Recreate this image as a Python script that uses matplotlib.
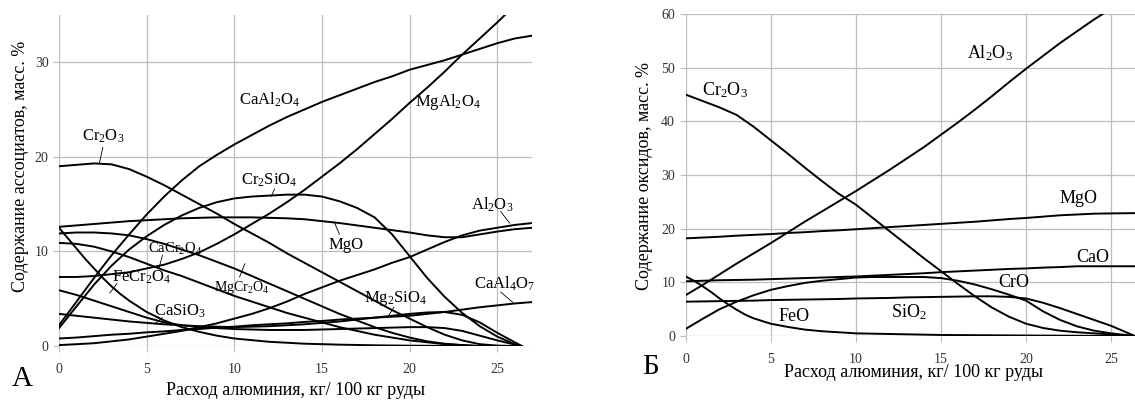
import matplotlib
matplotlib.use("Agg")
import matplotlib.pyplot as plt

plt.rcParams['font.family'] = ['Liberation Serif', 'DejaVu Serif']
plt.rcParams['mathtext.fontset'] = 'custom'
plt.rcParams['mathtext.rm'] = 'Liberation Serif'
plt.rcParams['mathtext.default'] = 'regular'

# ---- panel A: associates, % mass ----
xa = [0, 1, 2, 3, 4, 5, 6, 7, 8, 9, 10, 11, 12, 13, 14, 15, 16, 17, 18, 19, 20, 21, 22, 23, 24, 25, 26, 27]
caal2o4 = [2.2, 4.7, 7.2, 9.6, 11.8, 13.9, 15.8, 17.5, 19.0, 20.2, 21.3, 22.3, 23.3, 24.2, 25.0, 25.8, 26.5, 27.2, 27.9, 28.5, 29.2, 29.7, 30.2, 30.8, 31.4, 32.0, 32.5, 32.8]
mgal2o4 = [7.3, 7.3, 7.4, 7.6, 7.8, 8.2, 8.6, 9.2, 9.9, 10.8, 11.8, 12.9, 14.0, 15.2, 16.5, 17.9, 19.3, 20.8, 22.4, 24.0, 25.7, 27.3, 29.0, 30.8, 32.5, 34.2, 36.0, 37.7]
mgo_a = [12.6, 12.75, 12.9, 13.05, 13.2, 13.3, 13.4, 13.5, 13.55, 13.6, 13.6, 13.6, 13.55, 13.5, 13.4, 13.2, 13.0, 12.75, 12.5, 12.25, 12.0, 11.7, 11.5, 11.5, 11.8, 12.1, 12.35, 12.5]
al2o3_a = [0.1, 0.2, 0.3, 0.5, 0.7, 1.0, 1.3, 1.6, 2.0, 2.4, 2.9, 3.4, 4.0, 4.7, 5.5, 6.2, 6.9, 7.5, 8.1, 8.8, 9.4, 10.2, 11.0, 11.7, 12.2, 12.5, 12.8, 13.0]
caal4o7 = [0.8, 0.9, 1.05, 1.2, 1.3, 1.45, 1.55, 1.7, 1.8, 1.95, 2.05, 2.2, 2.3, 2.4, 2.55, 2.65, 2.8, 2.9, 3.0, 3.1, 3.2, 3.4, 3.6, 3.85, 4.1, 4.3, 4.5, 4.65]

xb = [0, 1, 2, 3, 4, 5, 6, 7, 8, 9, 10, 11, 12, 13, 14, 15, 16, 17, 18, 19, 20, 21, 22, 23, 24, 25, 26, 26.4]
cr2o3_a = [19.0, 19.15, 19.3, 19.2, 18.7, 17.9, 17.0, 16.0, 15.0, 14.0, 12.9, 11.9, 10.9, 9.8, 8.8, 7.8, 6.8, 5.8, 4.8, 3.8, 2.9, 2.0, 1.2, 0.6, 0.2, 0.05, 0.0, 0.0]
cr2sio4 = [1.9, 4.2, 6.5, 8.5, 10.2, 11.6, 12.8, 13.8, 14.6, 15.2, 15.6, 15.8, 15.9, 16.0, 16.0, 15.8, 15.3, 14.6, 13.6, 11.8, 9.5, 7.2, 5.2, 3.5, 2.1, 1.0, 0.2, 0.0]
mgcr2o4 = [11.9, 12.0, 12.0, 11.9, 11.7, 11.3, 10.8, 10.2, 9.6, 8.9, 8.2, 7.4, 6.6, 5.8, 5.0, 4.2, 3.4, 2.7, 2.0, 1.4, 0.9, 0.5, 0.25, 0.1, 0.0, 0.0, 0.0, 0.0]
cacr2o4 = [10.9, 10.8, 10.5, 10.0, 9.4, 8.7, 8.0, 7.4, 6.7, 6.0, 5.3, 4.7, 4.1, 3.5, 3.0, 2.5, 2.0, 1.6, 1.2, 0.9, 0.6, 0.4, 0.2, 0.1, 0.0, 0.0, 0.0, 0.0]
casio3 = [5.9, 5.4, 4.8, 4.2, 3.6, 3.0, 2.5, 2.2, 2.0, 1.9, 1.8, 1.75, 1.7, 1.7, 1.7, 1.75, 1.8, 1.85, 1.9, 1.95, 2.0, 2.0, 1.9, 1.6, 1.1, 0.6, 0.15, 0.0]
mg2sio4 = [3.4, 3.2, 3.0, 2.8, 2.6, 2.45, 2.3, 2.2, 2.1, 2.05, 2.0, 2.05, 2.1, 2.2, 2.3, 2.45, 2.6, 2.8, 3.0, 3.2, 3.4, 3.55, 3.6, 3.3, 2.5, 1.4, 0.4, 0.0]

xf = [0, 0.5, 1, 1.5, 2, 2.5, 3, 3.5, 4, 5, 6, 7, 8, 9, 10, 12, 14, 16, 18, 20, 22, 24, 26.4]
fecr2o4 = [12.5, 11.4, 10.3, 9.2, 8.2, 7.2, 6.3, 5.5, 4.8, 3.6, 2.7, 2.0, 1.5, 1.1, 0.8, 0.45, 0.25, 0.15, 0.08, 0.04, 0.02, 0.01, 0.0]

# ---- panel B: oxides, % mass ----
xo = [0, 1, 2, 3, 4, 5, 6, 7, 8, 9, 10, 11, 12, 13, 14, 15, 16, 17, 18, 19, 20, 21, 22, 23, 24, 25, 26.4]
cr2o3_b = [45.0, 43.8, 42.6, 41.2, 39.0, 36.5, 34.0, 31.4, 28.9, 26.5, 24.5, 22.0, 19.5, 17.0, 14.5, 12.1, 9.7, 7.4, 5.3, 3.6, 2.3, 1.5, 1.0, 0.7, 0.5, 0.3, 0.0]
al2o3_b = [7.6, 9.5, 11.5, 13.5, 15.4, 17.3, 19.3, 21.3, 23.2, 25.1, 27.0, 29.0, 31.0, 33.1, 35.2, 37.5, 39.8, 42.2, 44.7, 47.3, 49.8, 52.2, 54.6, 56.8, 59.0, 61.0, 64.0]
mgo_b = [18.2, 18.35, 18.5, 18.7, 18.85, 19.0, 19.2, 19.35, 19.55, 19.7, 19.9, 20.1, 20.3, 20.5, 20.7, 20.9, 21.1, 21.3, 21.55, 21.8, 22.0, 22.25, 22.5, 22.65, 22.8, 22.85, 22.9]
cao_b = [10.2, 10.3, 10.4, 10.45, 10.5, 10.6, 10.7, 10.8, 10.9, 11.0, 11.1, 11.25, 11.4, 11.55, 11.7, 11.9, 12.05, 12.2, 12.35, 12.5, 12.6, 12.75, 12.85, 13.0, 13.0, 13.0, 13.0]
cro_b = [1.3, 3.2, 5.0, 6.4, 7.6, 8.6, 9.3, 9.9, 10.3, 10.6, 10.9, 11.0, 11.0, 11.0, 11.0, 10.8, 10.3, 9.6, 8.7, 7.7, 6.6, 4.6, 3.0, 1.8, 1.0, 0.5, 0.0]
sio2_b = [6.4, 6.45, 6.5, 6.55, 6.6, 6.7, 6.75, 6.8, 6.85, 6.9, 7.0, 7.05, 7.1, 7.2, 7.25, 7.3, 7.35, 7.4, 7.4, 7.3, 7.0, 6.2, 5.2, 4.1, 3.0, 1.9, 0.0]
xfeo = [0, 0.5, 1, 1.5, 2, 2.5, 3, 3.5, 4, 5, 6, 7, 8, 10, 15, 20, 26.4]
feo_b = [11.1, 10.3, 9.3, 8.2, 7.0, 5.9, 4.9, 4.0, 3.3, 2.3, 1.7, 1.2, 0.9, 0.5, 0.2, 0.1, 0.0]

xticks = [0, 5, 10, 15, 20, 25]
yticks_a = [0, 10, 20, 30]
yticks_b = [0, 10, 20, 30, 40, 50, 60]

xlabel = 'Расход алюминия, кг/ 100 кг руды'
ylabel_a = 'Содержание ассоциатов, масс. %'
ylabel_b = 'Содержание оксидов, масс. %'

fig = plt.figure(figsize=(11.35, 4.01), dpi=100)
ax1 = fig.add_axes([0.052, 0.137, 0.417, 0.826])
ax2 = fig.add_axes([0.604, 0.162, 0.396, 0.803])

lw = 1.4
for xs, ys in [(xa, caal2o4), (xa, mgal2o4), (xa, mgo_a), (xa, al2o3_a), (xa, caal4o7),
               (xb, cr2o3_a), (xb, cr2sio4), (xb, mgcr2o4), (xb, cacr2o4), (xb, casio3),
               (xb, mg2sio4), (xf, fecr2o4)]:
    ax1.plot(xs, ys, color='black', lw=lw)

for xs, ys in [(xo, cr2o3_b), (xo, al2o3_b), (xo, mgo_b), (xo, cao_b), (xo, cro_b),
               (xo, sio2_b), (xfeo, feo_b)]:
    ax2.plot(xs, ys, color='black', lw=lw)


def style(ax, xmax, ymax, yticks):
    ax.set_xlim(0, xmax)
    ax.set_ylim(0, ymax)
    ax.set_xticks(xticks)
    ax.set_xticklabels([str(t) for t in xticks])
    ax.set_yticks(yticks)
    ax.set_yticklabels([str(t) for t in yticks])
    for s in ax.spines.values():
        s.set_visible(False)
    ax.grid(True, color='#bdbdbd', lw=0.9)
    ax.set_axisbelow(True)
    ax.tick_params(length=4, color='#bdbdbd', labelsize=10, labelcolor='#333333')
    ax.tick_params(axis='x', pad=8)


style(ax1, 27, 35, yticks_a)
style(ax2, 26.4, 60, yticks_b)


def lab(ax, text, x, y, size=12, leader=None):
    ax.text(x, y, text, ha='center', va='center', fontsize=size)
    if leader:
        ax.plot([leader[0], leader[2]], [leader[1], leader[3]], color='black', lw=0.6)


lab(ax1, r'Cr$_2$O$_3$', 2.5, 22.2, leader=(2.5, 21.0, 2.3, 19.3))
lab(ax1, r'CaAl$_2$O$_4$', 12.0, 26.0)
lab(ax1, r'MgAl$_2$O$_4$', 22.2, 25.8)
lab(ax1, r'Cr$_2$SiO$_4$', 12.0, 17.5, leader=(12.3, 16.6, 12.1, 15.8))
lab(ax1, 'MgO', 16.4, 10.7, leader=(16.0, 11.8, 15.7, 13.1))
lab(ax1, r'Al$_2$O$_3$', 24.7, 14.9, leader=(25.2, 14.2, 25.7, 13.0))
lab(ax1, r'CaAl$_4$O$_7$', 25.4, 6.6, leader=(25.2, 5.7, 25.9, 4.6))
lab(ax1, r'Mg$_2$SiO$_4$', 19.2, 5.0, leader=(19.1, 4.1, 18.8, 3.2))
lab(ax1, r'CaSiO$_3$', 6.9, 3.7, leader=(5.9, 3.0, 5.5, 2.4))
lab(ax1, r'FeCr$_2$O$_4$', 4.7, 7.3, leader=(3.3, 6.6, 2.9, 5.6))
lab(ax1, r'CaCr$_2$O$_4$', 6.6, 10.3, size=10.5, leader=(5.9, 9.6, 5.7, 8.2))
lab(ax1, r'MgCr$_2$O$_4$', 10.4, 6.2, size=10, leader=(10.3, 7.3, 10.6, 8.7))

lab(ax2, r'Cr$_2$O$_3$', 2.3, 45.9, size=13)
lab(ax2, r'Al$_2$O$_3$', 17.9, 52.8, size=13)
lab(ax2, 'MgO', 23.1, 25.7, size=13)
lab(ax2, 'CaO', 23.9, 14.7, size=13)
lab(ax2, 'CrO', 19.3, 9.9, size=13)
lab(ax2, r'SiO$_2$', 13.1, 4.5, size=13)
lab(ax2, 'FeO', 6.4, 3.6, size=13)

fig.text(0.26, 0.027, xlabel, ha='center', va='center', fontsize=13)
fig.text(0.805, 0.07, xlabel, ha='center', va='center', fontsize=13)
fig.text(0.018, 0.585, ylabel_a, ha='center', va='center', rotation=90, fontsize=13)
fig.text(0.568, 0.56, ylabel_b, ha='center', va='center', rotation=90, fontsize=13)
fig.text(0.020, 0.055, 'А', ha='center', va='center', fontsize=21)
fig.text(0.573, 0.085, 'Б', ha='center', va='center', fontsize=21)

fig.savefig('out.png', dpi=100)
